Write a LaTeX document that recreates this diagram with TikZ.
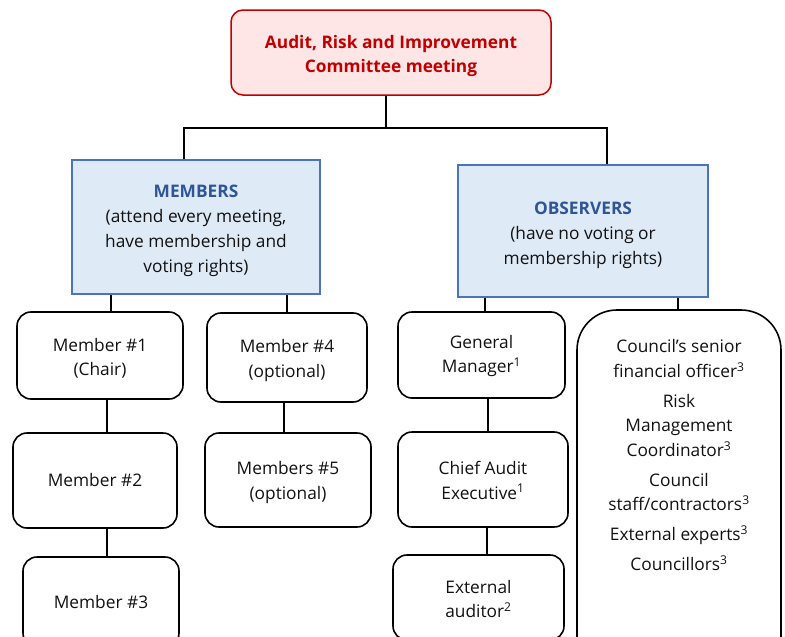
\documentclass[tikz,border=0pt]{standalone}
\usepackage{fontspec}
\setmainfont{Open Sans}
\usetikzlibrary{calc}
\definecolor{redline}{HTML}{C00000}
\definecolor{pinkfill}{HTML}{FFE6E6}
\definecolor{bluefill}{HTML}{DEEAF6}
\definecolor{blueline}{HTML}{4A75BE}
\definecolor{bluetext}{HTML}{2F5597}
\definecolor{txt}{HTML}{111111}
\newcommand\lowr[1]{\rule{0pt}{#1pt}}
\begin{document}
\begin{tikzpicture}[x=1pt,y=-1pt,
  conn/.style={line width=1.6pt, black},
  topbox/.style={draw=redline, fill=pinkfill, line width=1.5pt, rounded corners=12pt, align=center, text=redline, font=\bfseries\fontsize{17.3}{24}\selectfont, inner sep=0pt},
  grpbox/.style={draw=blueline, fill=bluefill, line width=1.5pt, align=center, text=txt, font=\fontsize{17.3}{25}\selectfont, inner sep=0pt},
  itembox/.style={draw, line width=1.6pt, rounded corners=14pt, align=center, text=txt, font=\fontsize{17.3}{24.5}\selectfont, inner sep=0pt},
  bigbox/.style={draw, line width=1.6pt, rounded corners=40pt, inner sep=0pt},
  plaintext/.style={align=center, text=txt, font=\fontsize{17.3}{24.5}\selectfont, inner sep=0pt}
]
\useasboundingbox (0,0) rectangle (785,637);
\clip (0,0) rectangle (785,637);

% top
\node[topbox, minimum width=320pt, minimum height=85pt] (top) at (391,52.5) {\lowr{21}Audit, Risk and Improvement\\Committee meeting};

% groups
\node[grpbox, minimum width=248pt, minimum height=134pt] (mem) at (196,227) {\lowr{21}{\bfseries\color{bluetext}MEMBERS}\\(attend every meeting,\\have membership and\\voting rights)};
\node[grpbox, minimum width=250pt, minimum height=132pt] (obs) at (583,231) {\lowr{21}{\bfseries\color{bluetext}OBSERVERS}\\(have no voting or\\membership rights)};

% members
\node[itembox, minimum width=166pt, minimum height=87pt] (m1) at (100,355.5) {\lowr{19}Member \#1\\(Chair)};
\node[itembox, minimum width=164pt, minimum height=95pt] (m2) at (95,480.5) {Member \#2};
\node[itembox, minimum width=156pt, minimum height=90pt] (m3) at (101,602) {Member \#3};
\node[itembox, minimum width=160pt, minimum height=89pt] (m4) at (287,357.5) {\lowr{19}Member \#4\\(optional)};
\node[itembox, minimum width=166pt, minimum height=94pt] (m5) at (288,480) {\lowr{18}Members \#5\\(optional)};

% observers
\node[itembox, minimum width=167pt, minimum height=86pt] (gm) at (481.5,355) {\lowr{15}General\\Manager\textsuperscript{1}};
\node[itembox, minimum width=170pt, minimum height=95pt] (cae) at (483,479.5) {\lowr{15}Chief Audit\\Executive\textsuperscript{1}};
\node[itembox, minimum width=171pt, minimum height=85pt] (ea) at (478.5,597.5) {\lowr{16}External\\auditor\textsuperscript{2}};
\node[bigbox, minimum width=204pt, minimum height=380pt] (big) at (679,500) {};
\node[plaintext] (bigtxt) at (679,455.5) {Council’s senior\\financial officer\textsuperscript{3}\\[5.5pt]Risk\\Management\\Coordinator\textsuperscript{3}\\[5.5pt]Council\\staff/contractors\textsuperscript{3}\\[5.5pt]External experts\textsuperscript{3}\\[5.5pt]Councillors\textsuperscript{3}};

% connectors
\coordinate (hbar) at (0,128);
\coordinate (tb) at ([xshift=-5]top.south);
\coordinate (mt) at ([xshift=-12]mem.north);
\coordinate (ot) at ([xshift=24]obs.north);
\draw[conn] (tb) -- (tb |- hbar);
\draw[conn] (mt) -- (mt |- hbar) -- (ot |- hbar) -- (ot);

\coordinate (c1) at ([xshift=11]m1.north);
\draw[conn] (c1 |- mem.south) -- (c1);
\draw[conn] (m4.north |- mem.south) -- (m4.north);
\coordinate (c12) at ([xshift=7]m1.south);
\draw[conn] (c12) -- (c12 |- m2.north);
\coordinate (c23) at ([xshift=12]m2.south);
\draw[conn] (c23) -- (c23 |- m3.north);
\coordinate (c45) at ([xshift=-3]m4.south);
\draw[conn] (c45) -- (c45 |- m5.north);

\coordinate (o1) at ([xshift=3.5]gm.north);
\draw[conn] (o1 |- obs.south) -- (o1);
\coordinate (o2) at ([xshift=-1]big.north);
\draw[conn] (o2 |- obs.south) -- (o2);
\coordinate (o12) at ([xshift=6.5]gm.south);
\draw[conn] (o12) -- (o12 |- cae.north);
\coordinate (o23) at ([xshift=4]cae.south);
\draw[conn] (o23) -- (o23 |- ea.north);
\end{tikzpicture}
\end{document}
